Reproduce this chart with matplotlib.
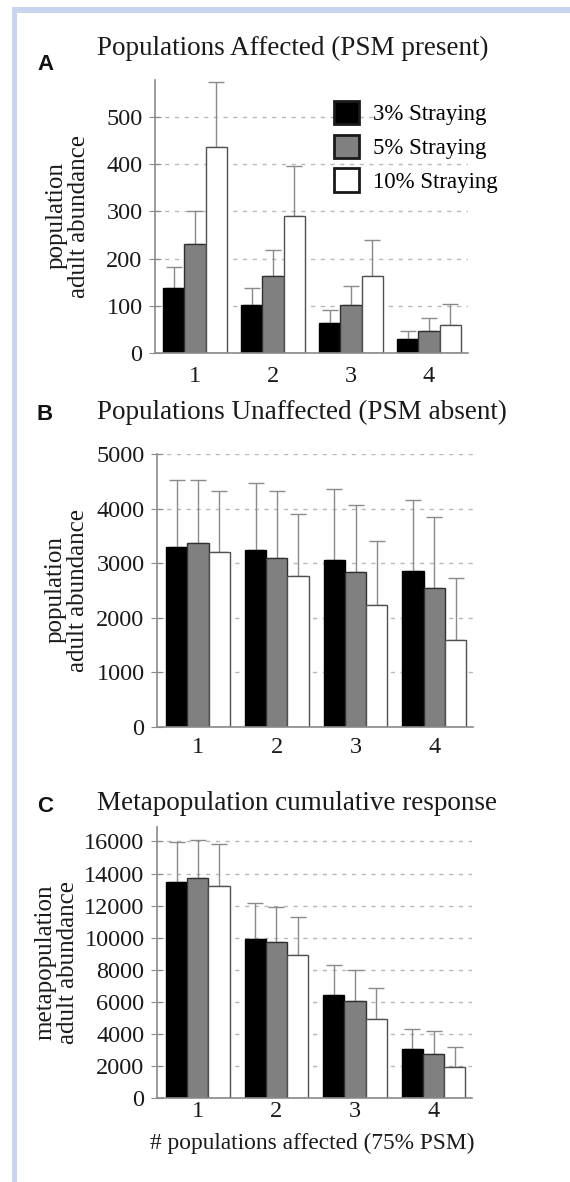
import numpy as np
import matplotlib
matplotlib.use("Agg")
import matplotlib.pyplot as plt
from matplotlib.patches import Rectangle

# number of populations affected
groups = [1, 2, 3, 4]
straying = ["3% Straying", "5% Straying", "10% Straying"]

# panel A: populations affected (mean, top of error bar)
a_mean = [[137, 101, 64, 30],
          [230, 163, 101, 46],
          [436, 291, 162, 60]]
a_top = [[182, 137, 91, 47],
         [301, 219, 142, 74],
         [574, 396, 240, 104]]

# panel B: populations unaffected
b_mean = [[3297, 3242, 3065, 2857],
          [3376, 3095, 2833, 2546],
          [3211, 2772, 2241, 1600]]
b_top = [[4530, 4470, 4350, 4160],
         [4530, 4330, 4060, 3850],
         [4330, 3910, 3410, 2730]]

# panel C: metapopulation
c_mean = [[13500, 9910, 6400, 3030],
          [13700, 9700, 6070, 2740],
          [13240, 8890, 4920, 1930]]
c_top = [[15960, 12160, 8290, 4320],
         [16100, 11930, 7960, 4160],
         [15850, 11280, 6860, 3180]]

bar_colors = ["#000000", "#808080", "#ffffff"]
edge_colors = ["#000000", "#303030", "#505050"]

SERIF = ["Liberation Serif", "Times New Roman", "Nimbus Roman", "DejaVu Serif"]
SANS = ["Liberation Sans", "Arial", "DejaVu Sans"]
plt.rcParams["font.family"] = SERIF
W, H = 570, 1182

fig = plt.figure(figsize=(5.7, 11.82), dpi=100)


def px(x0, y0, x1, y1):
    # pixel box -> figure fraction [left, bottom, width, height]
    return [x0 / W, 1 - y1 / H, (x1 - x0) / W, (y1 - y0) / H]


def draw_panel(box, means, tops, ymax, yticks, xlim, xpad=9):
    ax = fig.add_axes(px(*box))
    width = 0.27
    x = np.array(groups, dtype=float)
    for i in range(3):
        m = np.array(means[i], dtype=float)
        t = np.array(tops[i], dtype=float)
        ax.bar(x + (i - 1) * width, m, width, color=bar_colors[i],
               edgecolor=edge_colors[i], linewidth=1, zorder=2,
               label=straying[i])
        ax.errorbar(x + (i - 1) * width, m, yerr=[np.zeros(4), t - m],
                    fmt="none", ecolor="#8a8a8a", elinewidth=1,
                    capsize=6, capthick=1, zorder=1)
    ax.set_xlim(*xlim)
    ax.set_ylim(0, ymax)
    ax.set_yticks(yticks)
    ax.set_xticks(groups)
    ax.set_xticklabels([str(g) for g in groups])
    for yv in yticks[1:]:
        ax.axhline(yv, color="#b8b8b8", lw=1, ls=(0, (3, 4)), zorder=0)
    for s in ["top", "right"]:
        ax.spines[s].set_visible(False)
    for s in ["left", "bottom"]:
        ax.spines[s].set_color("#8a8a8a")
        ax.spines[s].set_linewidth(1.2)
    ax.tick_params(axis="y", direction="inout", length=8, color="#8a8a8a",
                   labelsize=17.5, pad=5, labelcolor="#1a1a1a")
    ax.tick_params(axis="x", length=0, labelsize=17.5, pad=xpad,
                   labelcolor="#1a1a1a")
    return ax


axA = draw_panel((155, 80, 468, 353), a_mean, a_top, 578,
                 [0, 100, 200, 300, 400, 500], (0.487, 4.5), xpad=9)
axB = draw_panel((157, 454, 473, 727), b_mean, b_top, 5000,
                 [0, 1000, 2000, 3000, 4000, 5000], (0.48, 4.49), xpad=7)
axC = draw_panel((157, 827, 472, 1098), c_mean, c_top, 16900,
                 [0, 2000, 4000, 6000, 8000, 10000, 12000, 14000, 16000],
                 (0.48, 4.49), xpad=2)

leg = axA.legend(loc="upper left", bbox_to_anchor=((334 - 155) / 313, (353 - 101) / 273),
                 frameon=False, prop={"family": SERIF, "size": 16.5},
                 handlelength=1.1, handleheight=1.2, handletextpad=0.6,
                 labelspacing=0.4, borderpad=0, borderaxespad=0)
for h in leg.legend_handles:
    h.set_edgecolor("#1a1a1a")
    h.set_linewidth(2)

# titles and panel letters
titles = [("Populations Affected (PSM present)", 293, 48, "A", 65),
          ("Populations Unaffected (PSM absent)", 302, 412, "B", 415),
          ("Metapopulation cumulative response", 297, 803, "C", 806)]
for txt, tx, ty, letter, ly in titles:
    fig.text(tx / W, 1 - ty / H, txt, ha="center", va="center",
             family=SERIF, size=19.5, color="#1a1a1a")
    fig.text(45 / W, 1 - ly / H, letter, ha="center", va="center",
             family=SANS, weight="bold", size=16, color="#111111")

# y labels
ylabels = [("population\nadult abundance", 68, 216),
           ("population\nadult abundance", 67, 590),
           ("metapopulation\nadult abundance", 57, 962)]
for txt, lx, ly in ylabels:
    fig.text(lx / W, 1 - ly / H, txt, ha="center", va="center", rotation=90,
             family=SERIF, size=18, linespacing=1.05, multialignment="center",
             color="#1a1a1a")

fig.text(312 / W, 1 - 1143 / H, "# populations affected (75% PSM)",
         ha="center", va="center", family=SERIF, size=16.8, color="#1a1a1a")

# light blue frame at top and left
blue = "#c8d5ee"
fig.add_artist(Rectangle((12 / W, 1 - 13 / H), 1 - 12 / W, 6 / H,
                         transform=fig.transFigure, color=blue, lw=0))
fig.add_artist(Rectangle((12 / W, 0), 5 / W, 1 - 7 / H,
                         transform=fig.transFigure, color=blue, lw=0))

fig.savefig("out.png", dpi=100)
